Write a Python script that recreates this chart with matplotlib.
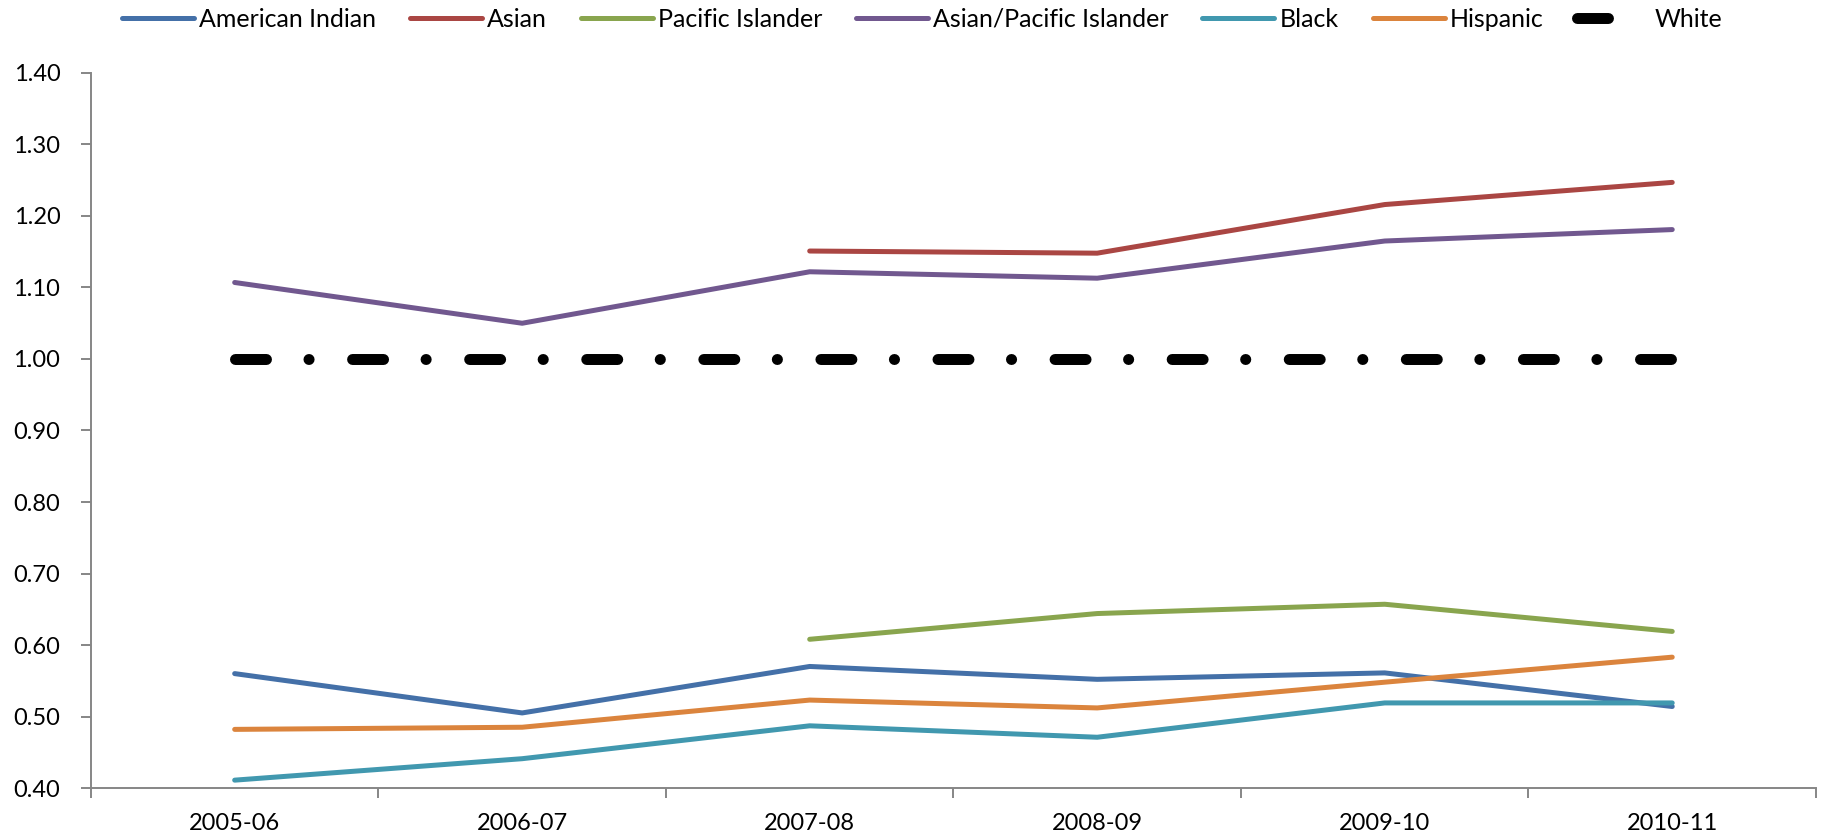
import numpy as np
import matplotlib
matplotlib.use('Agg')
import matplotlib.pyplot as plt

plt.rcParams['font.family'] = ['Lato', 'DejaVu Sans']
plt.rcParams['lines.scale_dashes'] = False

#DATA
years = ['2005-06', '2006-07', '2007-08', '2008-09', '2009-10', '2010-11']
nan = np.nan
american_indian = [0.560, 0.505, 0.570, 0.552, 0.561, 0.514]
asian = [nan, nan, 1.151, 1.148, 1.216, 1.247]
pacific_islander = [nan, nan, 0.608, 0.644, 0.657, 0.619]
asian_pacific = [1.107, 1.050, 1.122, 1.113, 1.165, 1.181]
black = [0.411, 0.441, 0.487, 0.471, 0.519, 0.519]
hispanic = [0.482, 0.485, 0.523, 0.512, 0.548, 0.583]
white = [1.0, 1.0, 1.0, 1.0, 1.0, 1.0]

series = [
    ('American Indian', american_indian, '#4470A8'),
    ('Asian', asian, '#AA4643'),
    ('Pacific Islander', pacific_islander, '#89A54E'),
    ('Asian/Pacific Islander', asian_pacific, '#71588F'),
    ('Black', black, '#4198AF'),
    ('Hispanic', hispanic, '#DB843D'),
]

fig = plt.figure(figsize=(18.22, 8.36), dpi=100)
ax = fig.add_axes([0.0499, 0.0574, 0.9468, 0.8553])

x = np.arange(len(years))
for name, vals, col in series:
    ax.plot(x, vals, color=col, lw=3.6, solid_capstyle='round',
            solid_joinstyle='round', label=name)
# white = reference line, dash-dot
ax.plot(x, white, color='black', lw=7.9, dashes=(22.3, 30.6, 0.1, 31.3),
        dash_capstyle='round', label='White')

ax.set_xlim(-0.5, 5.5)
ax.set_ylim(0.4, 1.4)
ax.set_yticks(np.arange(0.4, 1.41, 0.1))
ax.set_yticklabels(['%.2f' % v for v in np.arange(0.4, 1.41, 0.1)])
ax.set_xticks(x)
ax.set_xticklabels(years)
ax.set_xticks(np.arange(-0.5, 5.6, 1), minor=True)

for s in ['top', 'right']:
    ax.spines[s].set_visible(False)
for s in ['left', 'bottom']:
    ax.spines[s].set_color('#868686')
    ax.spines[s].set_linewidth(1.4)

ax.tick_params(axis='y', length=7, width=1.4, color='#868686', labelsize=17, pad=15)
ax.tick_params(axis='x', which='major', length=0, labelsize=17, pad=18)
ax.tick_params(axis='x', which='minor', length=7, width=1.4, color='#868686')

fig.legend(loc='center', bbox_to_anchor=(0.506, 0.977), ncol=7, frameon=False,
           fontsize=18, handlelength=2.88, handletextpad=0.2, columnspacing=1.36)

plt.savefig('out.png', dpi=100)
